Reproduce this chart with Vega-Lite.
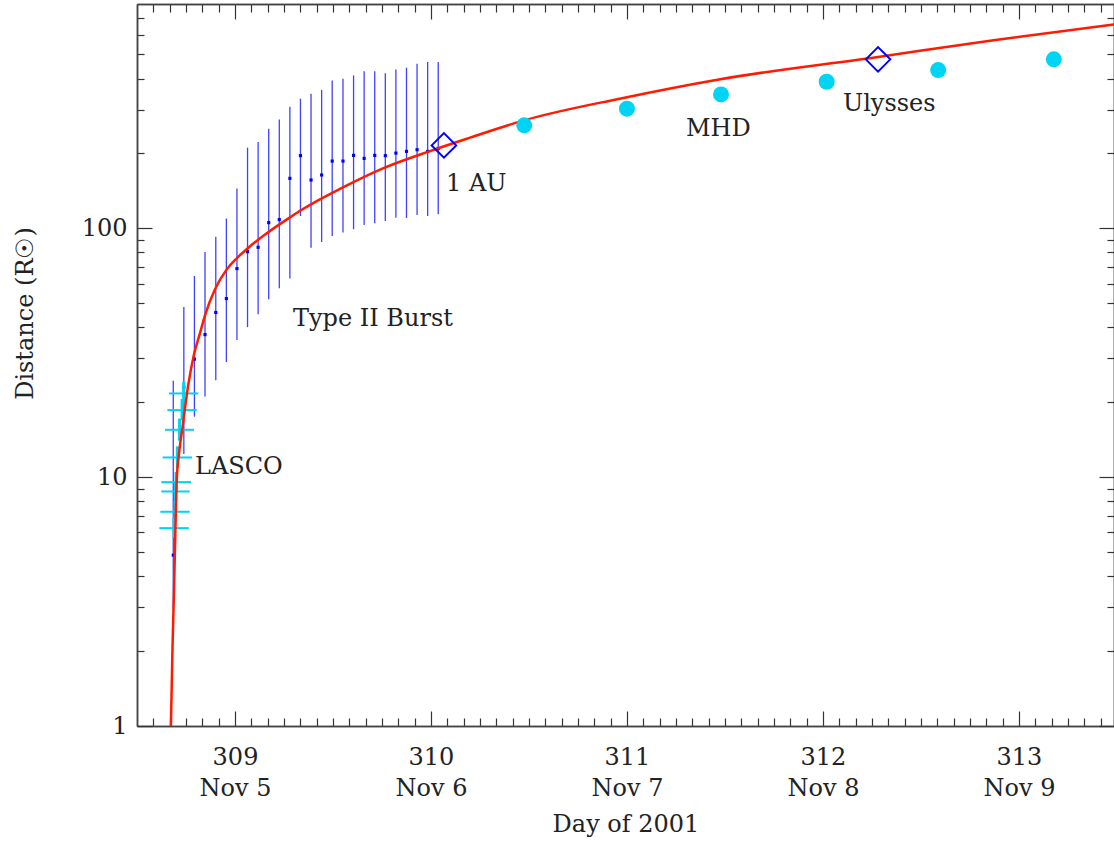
{
  "$schema": "https://vega.github.io/schema/vega-lite/v6.json",
  "autosize": {"type": "none"},
  "padding": {"left": 137, "top": 4, "right": 0, "bottom": 117},
  "width": 977,
  "height": 722,
  "background": "white",
  "config": {
    "view": {"stroke": null},
    "axis": {
      "labelFont": "DejaVu Serif",
      "labelFontSize": 24,
      "labelColor": "#222",
      "titleFont": "DejaVu Serif",
      "titleFontSize": 24,
      "titleFontWeight": "normal",
      "titleColor": "#222",
      "tickColor": "#333",
      "tickWidth": 1.2,
      "domainColor": "#444",
      "domainWidth": 1.5,
      "grid": false
    }
  },
  "datasets": {
    "fit": [
      {"day": 308.673, "dist": 1.0},
      {"day": 308.681, "dist": 2.04},
      {"day": 308.689, "dist": 3.55},
      {"day": 308.696, "dist": 6.18},
      {"day": 308.703, "dist": 9.82},
      {"day": 308.714, "dist": 12.37},
      {"day": 308.731, "dist": 15.6},
      {"day": 308.762, "dist": 23.6},
      {"day": 308.791, "dist": 31.2},
      {"day": 308.821, "dist": 37.8},
      {"day": 308.847, "dist": 44.7},
      {"day": 308.898, "dist": 56.9},
      {"day": 308.958, "dist": 68.4},
      {"day": 309.009, "dist": 75.8},
      {"day": 309.077, "dist": 84.7},
      {"day": 309.162, "dist": 95.5},
      {"day": 309.281, "dist": 110.7},
      {"day": 309.332, "dist": 117.6},
      {"day": 309.551, "dist": 146.1},
      {"day": 309.755, "dist": 174.2},
      {"day": 309.995, "dist": 204.4},
      {"day": 310.199, "dist": 231.4},
      {"day": 310.474, "dist": 271.5},
      {"day": 310.969, "dist": 332.7},
      {"day": 311.469, "dist": 396.6},
      {"day": 312.281, "dist": 488.5},
      {"day": 312.862, "dist": 568.9},
      {"day": 313.485, "dist": 659.7}
    ],
    "burst": [
      {"day": 308.685, "dist": 4.86, "lo": 2.95, "hi": 24.4},
      {"day": 308.739, "dist": 23.0, "lo": 12.4, "hi": 48.3},
      {"day": 308.793, "dist": 29.8, "lo": 17.5, "hi": 64.3},
      {"day": 308.847, "dist": 37.4, "lo": 21.1, "hi": 80.3},
      {"day": 308.902, "dist": 45.9, "lo": 24.5, "hi": 92.4},
      {"day": 308.956, "dist": 52.2, "lo": 29.0, "hi": 109.5},
      {"day": 309.010, "dist": 68.9, "lo": 35.6, "hi": 144.5},
      {"day": 309.064, "dist": 80.6, "lo": 40.1, "hi": 210.9},
      {"day": 309.118, "dist": 83.9, "lo": 45.1, "hi": 222.2},
      {"day": 309.172, "dist": 105.4, "lo": 51.9, "hi": 251.5},
      {"day": 309.226, "dist": 108.4, "lo": 57.4, "hi": 274.0},
      {"day": 309.280, "dist": 158.8, "lo": 62.8, "hi": 308.2},
      {"day": 309.334, "dist": 195.9, "lo": 112.0, "hi": 331.8},
      {"day": 309.388, "dist": 156.4, "lo": 83.6, "hi": 347.5},
      {"day": 309.442, "dist": 163.8, "lo": 88.1, "hi": 359.9},
      {"day": 309.496, "dist": 186.3, "lo": 93.1, "hi": 392.9},
      {"day": 309.551, "dist": 186.3, "lo": 96.1, "hi": 399.1},
      {"day": 309.605, "dist": 196.4, "lo": 99.1, "hi": 411.5},
      {"day": 309.659, "dist": 191.0, "lo": 103.1, "hi": 428.2},
      {"day": 309.713, "dist": 196.4, "lo": 104.7, "hi": 428.2},
      {"day": 309.767, "dist": 195.9, "lo": 107.0, "hi": 420.4},
      {"day": 309.821, "dist": 200.6, "lo": 110.4, "hi": 435.1},
      {"day": 309.875, "dist": 203.8, "lo": 110.0, "hi": 442.0},
      {"day": 309.929, "dist": 207.0, "lo": 113.1, "hi": 458.6},
      {"day": 309.983, "dist": 203.8, "lo": 112.0, "hi": 465.5},
      {"day": 310.037, "dist": 209.5, "lo": 113.8, "hi": 465.5}
    ],
    "lasco": [
      {"day": 308.738, "dist": 21.7, "xlo": 308.663, "xhi": 308.813, "lo": 19.8, "hi": 24.2},
      {"day": 308.730, "dist": 18.6, "xlo": 308.655, "xhi": 308.805, "lo": 16.9, "hi": 20.6},
      {"day": 308.717, "dist": 15.5, "xlo": 308.643, "xhi": 308.791, "lo": 14.0, "hi": 17.2},
      {"day": 308.706, "dist": 12.0, "xlo": 308.631, "xhi": 308.781, "lo": 10.9, "hi": 13.3},
      {"day": 308.699, "dist": 9.55, "xlo": 308.624, "xhi": 308.776, "lo": 8.7, "hi": 10.5},
      {"day": 308.696, "dist": 8.76, "xlo": 308.624, "xhi": 308.769, "lo": 8.0, "hi": 9.6},
      {"day": 308.694, "dist": 7.26, "xlo": 308.619, "xhi": 308.769, "lo": 6.6, "hi": 8.0},
      {"day": 308.689, "dist": 6.24, "xlo": 308.614, "xhi": 308.764, "lo": 5.7, "hi": 6.9}
    ],
    "mhd": [
      {"day": 310.476, "dist": 259.3},
      {"day": 311.0, "dist": 302.5},
      {"day": 311.48, "dist": 345.2},
      {"day": 312.019, "dist": 388.2},
      {"day": 312.588, "dist": 432.5},
      {"day": 313.178, "dist": 477.5}
    ],
    "obs": [
      {"day": 310.066, "dist": 215.4, "name": "1 AU"},
      {"day": 312.281, "dist": 477.5, "name": "Ulysses"}
    ],
    "labels": [
      {"day": 309.296, "dist": 43.1, "label": "Type II Burst"},
      {"day": 308.796, "dist": 10.97, "label": "LASCO"},
      {"day": 310.077, "dist": 150.2, "label": "1 AU"},
      {"day": 311.301, "dist": 249.8, "label": "MHD"},
      {"day": 312.102, "dist": 314.8, "label": "Ulysses"}
    ]
  },
  "resolve": {
    "scale": {"x": "shared", "y": "shared"},
    "axis": {"x": "independent", "y": "independent"}
  },
  "layer": [
    {
      "data": {"name": "burst"},
      "mark": {"type": "rule", "color": "#1010ff", "strokeWidth": 1.3, "opacity": 0.8},
      "encoding": {
        "x": {"field": "day", "type": "quantitative",
          "scale": {"domain": [308.5, 313.485], "nice": false, "zero": false},
          "axis": {"orient": "bottom", "title": null, "labels": false, "tickSize": -8,
            "values": [308.5833, 308.6667, 308.75, 308.8333, 308.9167,
              309.0833, 309.1667, 309.25, 309.3333, 309.4167, 309.5, 309.5833, 309.6667, 309.75, 309.8333, 309.9167,
              310.0833, 310.1667, 310.25, 310.3333, 310.4167, 310.5, 310.5833, 310.6667, 310.75, 310.8333, 310.9167,
              311.0833, 311.1667, 311.25, 311.3333, 311.4167, 311.5, 311.5833, 311.6667, 311.75, 311.8333, 311.9167,
              312.0833, 312.1667, 312.25, 312.3333, 312.4167, 312.5, 312.5833, 312.6667, 312.75, 312.8333, 312.9167,
              313.0833, 313.1667, 313.25, 313.3333, 313.4167]}},
        "y": {"field": "lo", "type": "quantitative",
          "scale": {"type": "log", "domain": [1, 797], "nice": false},
          "axis": {"orient": "left", "title": null, "labels": false, "tickSize": -7,
            "values": [2, 3, 4, 5, 6, 7, 8, 9, 20, 30, 40, 50, 60, 70, 80, 90, 200, 300, 400, 500, 600, 700]}},
        "y2": {"field": "hi"}
      }
    },
    {
      "data": {"name": "burst"},
      "mark": {"type": "point", "shape": "square", "filled": true, "size": 10, "color": "#0000ff", "opacity": 1},
      "encoding": {
        "x": {"field": "day", "type": "quantitative",
          "axis": {"orient": "top", "title": null, "labels": false, "tickSize": -15, "values": [309, 310, 311, 312, 313]}},
        "y": {"field": "dist", "type": "quantitative",
          "axis": {"orient": "right", "title": null, "labels": false, "tickSize": -15, "values": [1, 10, 100]}}
      }
    },
    {
      "data": {"name": "lasco"},
      "mark": {"type": "rule", "color": "#00d4f5", "strokeWidth": 2},
      "encoding": {
        "x": {"field": "xlo", "type": "quantitative",
          "axis": {"orient": "top", "title": null, "labels": false, "tickSize": -8,
            "values": [308.5833, 308.6667, 308.75, 308.8333, 308.9167,
              309.0833, 309.1667, 309.25, 309.3333, 309.4167, 309.5, 309.5833, 309.6667, 309.75, 309.8333, 309.9167,
              310.0833, 310.1667, 310.25, 310.3333, 310.4167, 310.5, 310.5833, 310.6667, 310.75, 310.8333, 310.9167,
              311.0833, 311.1667, 311.25, 311.3333, 311.4167, 311.5, 311.5833, 311.6667, 311.75, 311.8333, 311.9167,
              312.0833, 312.1667, 312.25, 312.3333, 312.4167, 312.5, 312.5833, 312.6667, 312.75, 312.8333, 312.9167,
              313.0833, 313.1667, 313.25, 313.3333, 313.4167]}},
        "x2": {"field": "xhi"},
        "y": {"field": "dist", "type": "quantitative",
          "axis": {"orient": "right", "title": null, "labels": false, "tickSize": -7,
            "values": [2, 3, 4, 5, 6, 7, 8, 9, 20, 30, 40, 50, 60, 70, 80, 90, 200, 300, 400, 500, 600, 700]}}
      }
    },
    {
      "data": {"name": "lasco"},
      "mark": {"type": "rule", "color": "#00d4f5", "strokeWidth": 3},
      "encoding": {
        "x": {"field": "day", "type": "quantitative", "axis": null},
        "y": {"field": "lo", "type": "quantitative", "axis": null},
        "y2": {"field": "hi"}
      }
    },
    {
      "data": {"name": "fit"},
      "mark": {"type": "line", "color": "#ff1a00", "strokeWidth": 2.5, "interpolate": "monotone", "clip": true},
      "encoding": {
        "x": {"field": "day", "type": "quantitative",
          "axis": {"orient": "bottom", "title": "Day of 2001", "values": [309, 310, 311, 312, 313],
            "tickSize": -15, "labelPadding": 34, "labelLineHeight": 31, "titlePadding": 12,
            "labelExpr": "[format(datum.value, 'd'), 'Nov ' + format(datum.value - 304, 'd')]"}},
        "y": {"field": "dist", "type": "quantitative",
          "axis": {"orient": "left", "title": "Distance (R☉)", "values": [1, 10, 100],
            "tickSize": -15, "labelPadding": 25, "titlePadding": 44, "titleY": 309, "titleAlign": "center", "format": "d"}}
      }
    },
    {
      "data": {"name": "mhd"},
      "mark": {"type": "point", "shape": "circle", "filled": true, "size": 256, "color": "#00d4f5", "opacity": 1},
      "encoding": {
        "x": {"field": "day", "type": "quantitative", "axis": null},
        "y": {"field": "dist", "type": "quantitative", "axis": null}
      }
    },
    {
      "data": {"name": "obs"},
      "mark": {"type": "point", "shape": "diamond", "filled": false, "size": 600, "stroke": "#0000ff", "strokeWidth": 2, "opacity": 1},
      "encoding": {
        "x": {"field": "day", "type": "quantitative", "axis": null},
        "y": {"field": "dist", "type": "quantitative", "axis": null}
      }
    },
    {
      "data": {"name": "labels"},
      "mark": {"type": "text", "font": "DejaVu Serif", "fontSize": 24, "color": "#222", "align": "left", "baseline": "middle"},
      "encoding": {
        "x": {"field": "day", "type": "quantitative", "axis": null},
        "y": {"field": "dist", "type": "quantitative", "axis": null},
        "text": {"field": "label"}
      }
    }
  ]
}
